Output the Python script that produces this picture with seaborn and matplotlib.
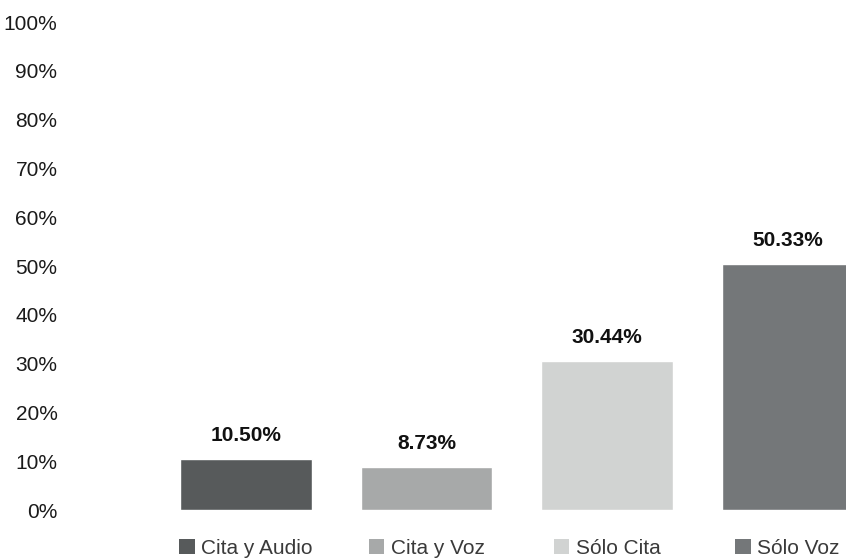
import matplotlib
matplotlib.use("Agg")
import matplotlib.pyplot as plt
from matplotlib.patches import Patch
import matplotlib.transforms as mtransforms
import seaborn as sns
import pandas as pd

categories = ["Cita y Audio", "Cita y Voz", "Sólo Cita", "Sólo Voz"]
values = [10.50, 8.73, 30.44, 50.33]
value_labels = ["10.50%", "8.73%", "30.44%", "50.33%"]
colors = ["#575A5B", "#A7A9A9", "#D1D3D2", "#747779"]
yticks = [0, 10, 20, 30, 40, 50, 60, 70, 80, 90, 100]
ytick_labels = [f"{t}%" for t in yticks]

sns.set_theme(style="white")
plt.rcParams["font.family"] = ["Liberation Sans", "DejaVu Sans"]
fs = 15

df = pd.DataFrame({"cat": categories, "val": values})

fig = plt.figure(figsize=(8.46, 5.58), dpi=100)
ax = fig.add_axes([70 / 846, 48 / 558, (846 - 70) / 846, 488 / 558])
sns.barplot(data=df, x="cat", y="val", hue="cat", palette=colors,
            legend=False, width=0.73, saturation=1, ax=ax)

ax.set_xlim(-0.975, 3.324)
ax.set_ylim(0, 100)
ax.set_yticks(yticks)
ax.set_yticklabels(ytick_labels, fontsize=fs, color="#1a1a1a")
ax.set_xticks([])
ax.set_xlabel("")
ax.set_ylabel("")
ax.tick_params(axis="y", length=0, pad=9)
for s in ax.spines.values():
    s.set_visible(False)

for i, (v, lab) in enumerate(zip(values, value_labels)):
    ax.annotate(lab, (i, v), xytext=(0, 17), textcoords="offset points",
                ha="center", va="center", fontsize=fs, fontweight="bold",
                color="#111111")

trans = mtransforms.blended_transform_factory(ax.transData, ax.transAxes)
for i, (c, col) in enumerate(zip(categories, colors)):
    leg = ax.legend(handles=[Patch(facecolor=col, edgecolor="none", label=c)],
                    loc="center", bbox_to_anchor=(i, -0.078), bbox_transform=trans,
                    frameon=False, fontsize=fs, handlelength=0.75, handleheight=0.75,
                    handletextpad=0.3, borderpad=0, borderaxespad=0,
                    labelcolor="#3a3a3a")
    ax.add_artist(leg)
ax.legend_ = None

fig.savefig("out.png", dpi=100)
